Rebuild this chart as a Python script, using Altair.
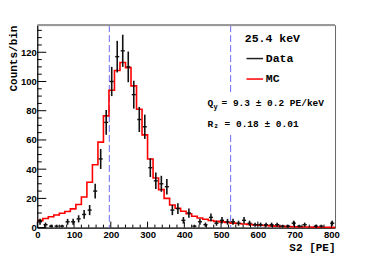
import altair as alt
import pandas as pd
import numpy as np

# ---- data ----
bin_width = 15
x_range = [0, 810]
y_range = [0, 138.6]

data_counts = [4, 2, 1, 1, 1, 4, 4, 6, 9, 12,
               25, 47, 72, 100, 117, 121, 110, 91, 74, 69,
               41, 32, 30, 28, 12, 13, 5, 10, 1, 4,
               2, 7, 3, 5, 4, 4, 3, 5, 3, 2,
               2, 2, 2, 2, 1, 1, 3, 1, 2, 0,
               1, 1, 0, 3]
mc_counts = [4.8, 6.2, 7.4, 8.6, 9.8, 11.0, 12.8, 15.8, 21.0, 31.0,
             43.0, 58.5, 76.5, 94.0, 107.5, 113.0, 109.5, 97.0, 81.0, 63.5,
             47.0, 34.0, 26.0, 20.0, 15.5, 13.3, 11.2, 9.5, 7.8, 6.6,
             5.7, 4.9, 4.3, 3.9, 3.5, 3.1, 2.8, 2.5, 2.2, 1.9,
             1.6, 1.4, 1.2, 1.0, 0.85, 0.7, 0.6, 0.5, 0.45, 0.4,
             0.35, 0.3, 0.25, 0.2]
cut_lines = [196, 526]
x_tick_labels = [0, 100, 200, 300, 400, 500, 600, 700, 800]
y_tick_labels = [0, 20, 40, 60, 80, 100, 120]
x_minor = [v for v in range(0, 801, 20) if v % 100]
y_minor = [v for v in range(0, 136, 5) if v % 20]

title_text = "25.4 keV"
legend_labels = ["Data", "MC"]
qy_text = "= 9.3 ± 0.2 PE/keV"
r2_text = "R₂ = 0.18 ± 0.01"

W, H = 298, 202.7

edges = np.arange(len(mc_counts)) * bin_width
centers = edges + bin_width / 2

mc_df = pd.DataFrame({"x": list(edges) + [x_range[1]],
                      "y": mc_counts + [mc_counts[-1]]})
dd = pd.DataFrame({"x": centers, "y": data_counts})
dd = dd[dd.y > 0].copy()
dd["err"] = np.sqrt(dd.y)
dd["lo"] = (dd.y - dd.err).clip(lower=0)
dd["hi"] = dd.y + dd.err
dd["xl"] = dd.x - 5.5
dd["xr"] = dd.x + 5.5

xs = alt.Scale(domain=x_range, nice=False, zero=False)
ys = alt.Scale(domain=y_range, nice=False, zero=False)

xaxis = alt.Axis(values=x_tick_labels, title="S2 [PE]", ticks=False, grid=False,
                 domainColor="black", domainWidth=1,
                 labelFont="Liberation Sans", labelFontWeight="bold", labelFontSize=9.5,
                 labelColor="black", labelPadding=2, labelFlush=False, labelOverlap=False,
                 titleFont="Liberation Mono", titleFontWeight="bold", titleFontSize=11,
                 titleColor="black", titleAlign="right", titleX=W, titleY=23,
                 titleBaseline="alphabetic")
yaxis = alt.Axis(values=y_tick_labels, title="Counts/bin", ticks=False, grid=False,
                 domainColor="black", domainWidth=1,
                 labelFont="Liberation Sans", labelFontWeight="bold", labelFontSize=9.5,
                 labelColor="black", labelPadding=1, labelFlush=False, labelOverlap=False,
                 titleFont="Liberation Mono", titleFontWeight="bold", titleFontSize=11,
                 titleColor="black", titleAngle=270, titleAlign="right",
                 titleBaseline="middle", titleX=-24, titleY=0)

X = lambda f: alt.X(f, type="quantitative", scale=xs, axis=xaxis)
Y = lambda f: alt.Y(f, type="quantitative", scale=ys, axis=yaxis)

one = pd.DataFrame({"a": [0]})

dashed = alt.Chart(pd.DataFrame({"x": cut_lines})).mark_rule(
    color="#6a6af5", strokeWidth=1, strokeDash=[7, 3]
).encode(x=X("x"), y=alt.value(0), y2=alt.value(H))

box = alt.Chart(one).mark_rect(fill="white").encode(
    x=alt.value(167), x2=alt.value(294), y=alt.value(68), y2=alt.value(110))

mc_line = alt.Chart(mc_df).mark_line(
    interpolate="step-after", color="#ff0000", strokeWidth=1.6
).encode(x=X("x"), y=Y("y"))

vbars = alt.Chart(dd).mark_rule(color="#111111", strokeWidth=1.6).encode(
    x=X("x"), y=Y("lo"), y2="hi")
hbars = alt.Chart(dd).mark_rule(color="#111111", strokeWidth=1.4).encode(
    x=X("xl"), x2="xr", y=Y("y"))

xmaj = alt.Chart(pd.DataFrame({"x": x_tick_labels})).mark_rule(color="black").encode(
    x=X("x"), y=alt.value(H), y2=alt.value(H - 6))
xmin = alt.Chart(pd.DataFrame({"x": x_minor})).mark_rule(color="black").encode(
    x=X("x"), y=alt.value(H), y2=alt.value(H - 3))
ymaj = alt.Chart(pd.DataFrame({"y": y_tick_labels})).mark_rule(color="black").encode(
    y=Y("y"), x=alt.value(0), x2=alt.value(9))
ymin = alt.Chart(pd.DataFrame({"y": y_minor})).mark_rule(color="black").encode(
    y=Y("y"), x=alt.value(0), x2=alt.value(4.5))

top_frame = alt.Chart(one).mark_rule(color="#999999", strokeWidth=2).encode(
    x=alt.value(0), x2=alt.value(W), y=alt.value(0))


def txt(s, x, y, size, **kw):
    return alt.Chart(one).mark_text(
        text=s, font="Liberation Mono", fontWeight="bold", fontSize=size,
        align="left", baseline="middle", color="black", **kw
    ).encode(x=alt.value(x), y=alt.value(y))


leg_data = alt.Chart(one).mark_rule(color="#222222", strokeWidth=1.5).encode(
    x=alt.value(209.4), x2=alt.value(226), y=alt.value(33.5))
leg_mc = alt.Chart(one).mark_rule(color="#ff0000", strokeWidth=1.5).encode(
    x=alt.value(209.4), x2=alt.value(226), y=alt.value(54))

layers = [
    dashed, box, mc_line, vbars, hbars, xmaj, xmin, ymaj, ymin, top_frame,
    txt(title_text, 207.7, 13.5, 11.5),
    leg_data, txt(legend_labels[0], 228.7, 33.5, 11.5),
    leg_mc, txt(legend_labels[1], 228.7, 54, 11.5),
    txt("Q", 170.4, 78, 9.5),
    txt("y", 176.3, 81.5, 7),
    txt(qy_text, 184.4, 78, 9.5),
    txt(r2_text, 170.4, 99, 9.5),
]

chart = alt.layer(*layers).properties(
    width=W, height=H,
    padding={"left": 29.3, "top": 17, "right": 31, "bottom": 25.3},
    autosize=alt.AutoSizeParams(type="none"),
    background="white",
).configure_view(stroke="#666666", strokeWidth=1)

chart.save("out.html", embed_options={"renderer": "svg", "actions": False})
